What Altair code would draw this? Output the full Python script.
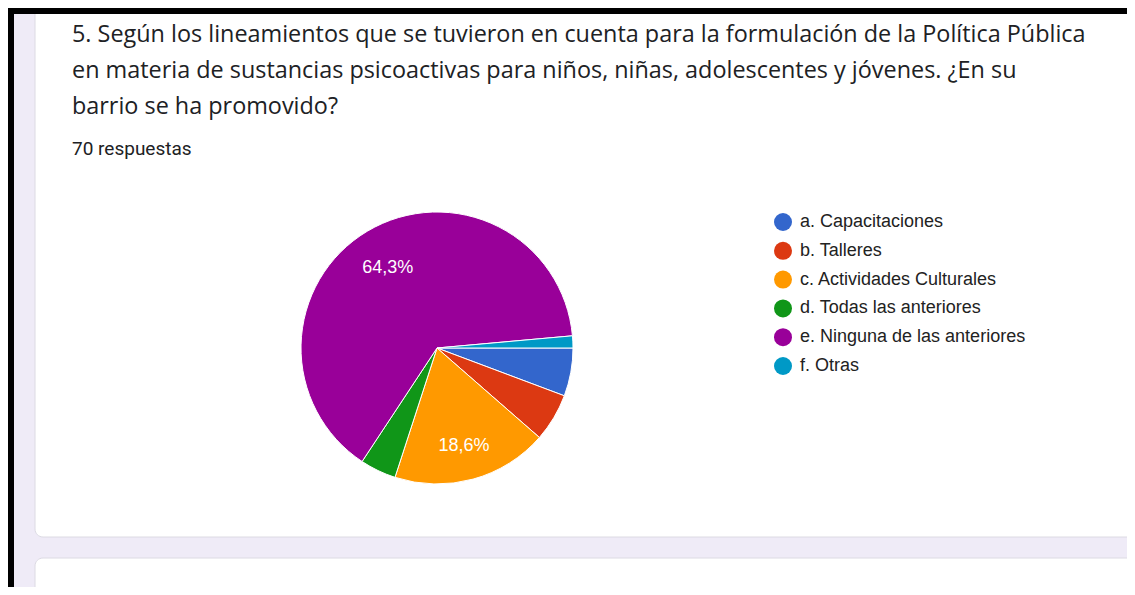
import math
import altair as alt
import pandas as pd

categories = [
    "a. Capacitaciones",
    "b. Talleres",
    "c. Actividades Culturales",
    "d. Todas las anteriores",
    "e. Ninguna de las anteriores",
    "f. Otras",
]
counts = [4, 4, 13, 3, 45, 1]
colors = ["#3366cc", "#dc3912", "#ff9900", "#109618", "#990099", "#0099c6"]
title_lines = [
    "5. Según los lineamientos que se tuvieron en cuenta para la formulación de la Política Pública",
    "en materia de sustancias psicoactivas para niños, niñas, adolescentes y jóvenes. ¿En su",
    "barrio se ha promovido?",
]
subtitle = "70 respuestas"

total = sum(counts)
labels = []
for c in counts:
    p = c / total * 100
    labels.append(f"{p:.1f}".replace(".", ",") + "%" if p >= 10 else "")

df = pd.DataFrame({"cat": categories, "n": counts, "label": labels, "order": list(range(len(categories)))})

W, H = 1119, 579
CX, CY, R = 429, 340, 136

def rect(x, x2, y, y2, fill, stroke=None, radius=0):
    kw = dict(fill=fill, cornerRadius=radius)
    if stroke:
        kw.update(stroke=stroke, strokeWidth=1)
    return alt.Chart(pd.DataFrame({"a": [0]})).mark_rect(**kw).encode(
        x=alt.value(x), x2=alt.value(x2), y=alt.value(y), y2=alt.value(y2)
    )

bg = rect(0, W + 20, 0, H + 20, "#efebf7")
card1 = rect(27, W + 30, -30, 529, "#ffffff", "#dcdae3", 8)
card2 = rect(27, W + 30, 550, H + 40, "#ffffff", "#dcdae3", 8)
border_top = rect(0, W + 20, 0, 6, "#000000")
border_left = rect(0, 6, 0, H + 20, "#000000")

texts = []
for i, line in enumerate(title_lines):
    texts.append(
        alt.Chart(pd.DataFrame({"a": [0]})).mark_text(
            align="left", baseline="alphabetic", font="Open Sans", fontSize=23.4, color="#202124"
        ).encode(x=alt.value(64), y=alt.value(34 + 36 * i), text=alt.value(line))
    )
texts.append(
    alt.Chart(pd.DataFrame({"a": [0]})).mark_text(
        align="left", baseline="alphabetic", font="Roboto", fontSize=19, color="#202124"
    ).encode(x=alt.value(64), y=alt.value(147), text=alt.value(subtitle))
)

theta_scale = alt.Scale(range=[math.pi / 2, math.pi / 2 + 2 * math.pi])

base = alt.Chart(df).encode(
    theta=alt.Theta("n:Q", stack=True, scale=theta_scale),
    order=alt.Order("order:Q"),
    x=alt.value(CX),
    y=alt.value(CY),
)

pie = base.mark_arc(outerRadius=R, stroke="#ffffff", strokeWidth=1).encode(
    color=alt.Color(
        "cat:N",
        scale=alt.Scale(domain=categories, range=colors),
        sort=categories,
        legend=alt.Legend(
            title=None,
            orient="none",
            legendX=766,
            legendY=205,
            symbolType="circle",
            symbolSize=324,
            symbolStrokeWidth=0,
            symbolOpacity=1,
            labelFont="Liberation Sans",
            labelFontSize=18,
            labelColor="#222222",
            labelOffset=8,
            rowPadding=10.8,
            padding=0,
            labelLimit=400,
        ),
    )
)

pie_text = base.mark_text(
    radius=98, dy=4, dx=1, font="Liberation Sans", fontSize=18, color="#ffffff", align="center", baseline="middle"
).encode(text="label:N")

chart = alt.layer(bg, card1, card2, border_top, border_left, *texts, pie, pie_text).properties(
    width=W, height=H, padding=0, autosize=alt.AutoSizeParams(type="none")
).configure_view(strokeWidth=0)

chart.save("out.html", embed_options={"renderer": "svg", "actions": False})
